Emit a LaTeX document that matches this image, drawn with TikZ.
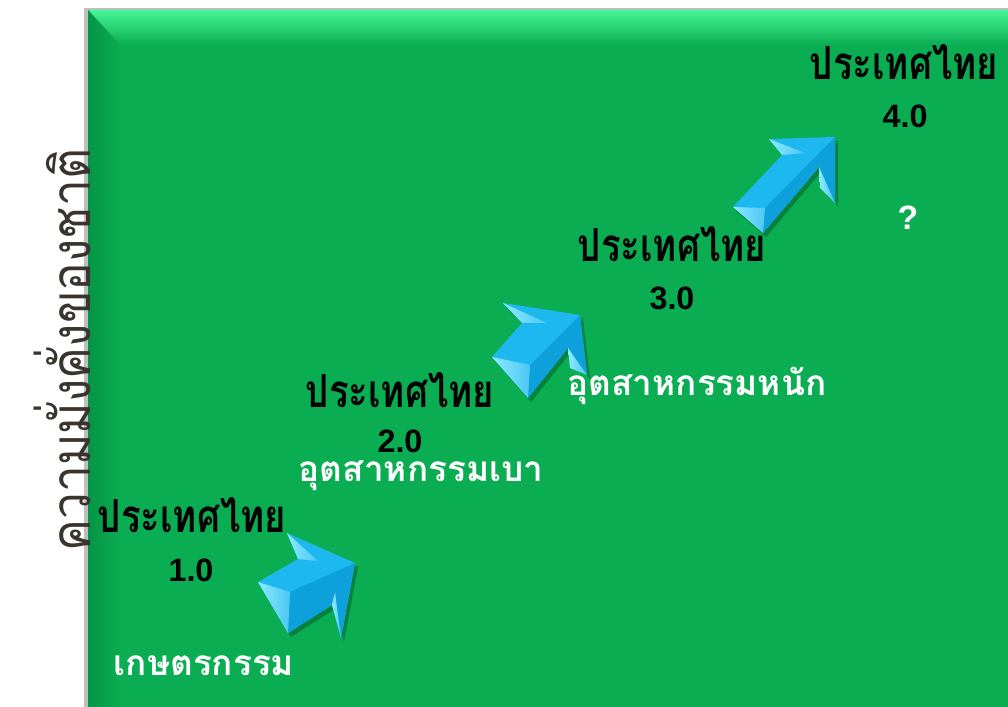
\documentclass[tikz,border=0pt]{standalone}
\usepackage{fontspec}
\newfontfamily\thaifont[Script=Thai]{Loma}
\newfontfamily\numfont{Liberation Sans}
\usetikzlibrary{positioning}

\definecolor{boardgreen}{RGB}{10,173,81}
\definecolor{bevellight}{RGB}{70,245,150}
\definecolor{beveldark}{RGB}{5,148,70}
\definecolor{arrowface}{RGB}{30,184,240}
\definecolor{arrowside}{RGB}{14,160,218}
\definecolor{arrowlight}{RGB}{140,235,255}
\definecolor{axisink}{RGB}{58,52,46}

\tikzset{
  facet/.style={left color=arrowlight, right color=arrowface!80!white},
  headline/.style={font=\thaifont\bfseries\fontsize{26}{28}\selectfont, text=black, inner sep=0pt},
  version/.style={font=\numfont\bfseries\fontsize{23}{25}\selectfont, text=black, inner sep=0pt},
  sector/.style={font=\thaifont\bfseries\fontsize{25}{27}\selectfont, text=white, inner sep=0pt}
}

\begin{document}
\begin{tikzpicture}[x=0.025cm,y=-0.025cm]
\useasboundingbox (0,0) rectangle (1008,707);
\fill[white] (0,0) rectangle (1008,707);

% board
\fill[black!25] (84,8) rectangle (1008,707);
\fill[boardgreen] (88,10) rectangle (1008,707);
\shade[top color=bevellight, bottom color=boardgreen] (88,10) -- (1008,10) -- (1008,45) -- (120,45) -- cycle;
\shade[left color=beveldark, right color=boardgreen] (88,10) -- (120,45) -- (120,707) -- (88,707) -- cycle;

% arrow 1
\fill[black,opacity=0.25] (261,586) -- (301,563) -- (290,537) -- (358,567) -- (344,642) -- (335,609) -- (291,637) -- cycle;
\fill[arrowface] (258,582) -- (298,559) -- (287,533) -- (355,563) -- (341,638) -- (332,605) -- (288,633) -- cycle;
\fill[arrowside] (290,592) -- (355,563) -- (341,638) -- (332,605) -- (288,633) -- cycle;
\shade[facet] (287,533) -- (318,561) -- (298,559) -- cycle;
\shade[facet] (332,605) -- (341,638) -- (335,592) -- cycle;
\shade[facet] (258,582) -- (290,592) -- (288,633) -- cycle;

% arrow 2
\fill[black,opacity=0.25] (495,361) -- (525,327) -- (506,307) -- (583,319) -- (590,379) -- (571,352) -- (531,402) -- cycle;
\fill[arrowface] (492,357) -- (522,323) -- (503,303) -- (580,315) -- (587,375) -- (568,348) -- (528,398) -- cycle;
\fill[arrowside] (530,365) -- (580,315) -- (587,375) -- (568,348) -- (528,398) -- cycle;
\shade[facet] (503,303) -- (547,323) -- (522,323) -- cycle;
\shade[facet] (568,348) -- (587,375) -- (570,368) -- cycle;
\shade[facet] (492,357) -- (530,365) -- (528,398) -- cycle;

% arrow 3
\fill[black,opacity=0.25] (736,211) -- (785,159) -- (772,143) -- (838,141) -- (838,207) -- (822,171) -- (766,237) -- cycle;
\fill[arrowface] (733,207) -- (782,155) -- (769,139) -- (835,137) -- (835,203) -- (819,167) -- (763,233) -- cycle;
\fill[arrowside] (765,208) -- (835,137) -- (835,203) -- (819,167) -- (763,233) -- cycle;
\shade[facet] (769,139) -- (805,153) -- (782,155) -- cycle;
\shade[facet] (819,167) -- (835,203) -- (820,188) -- cycle;
\shade[facet] (733,207) -- (765,208) -- (763,233) -- cycle;

% axis title
\node[rotate=90, font=\thaifont\fontsize{34}{36}\selectfont, text=axisink, inner sep=0pt] (wealth) at (62,350) {\scalebox{1}[1.15]{ความมั่งคั่งของชาติ}};

% stages
\node[headline] (thai1) at (192,515) {\scalebox{1}[1.25]{ประเทศไทย}};
\node[version] (ver1) at (191,570) {1.0};
\node[sector] (agri) at (204,666) {เกษตรกรรม};

\node[headline] (thai2) at (400,390) {\scalebox{1}[1.25]{ประเทศไทย}};
\node[version] (ver2) at (400,441) {2.0};
\node[sector] (light) at (421,476) {อุตสาหกรรมเบา};

\node[headline] (thai3) at (672,244) {\scalebox{1}[1.25]{ประเทศไทย}};
\node[version] (ver3) at (672,298) {3.0};
\node[sector] (heavy) at (697,386) {อุตสาหกรรมหนัก};

\node[headline] (thai4) at (904,62) {\scalebox{1}[1.25]{ประเทศไทย}};
\node[version] (ver4) at (905,116) {4.0};
\node[sector, font=\numfont\bfseries\fontsize{24}{26}\selectfont] (next) at (908,218) {?};
\end{tikzpicture}
\end{document}
